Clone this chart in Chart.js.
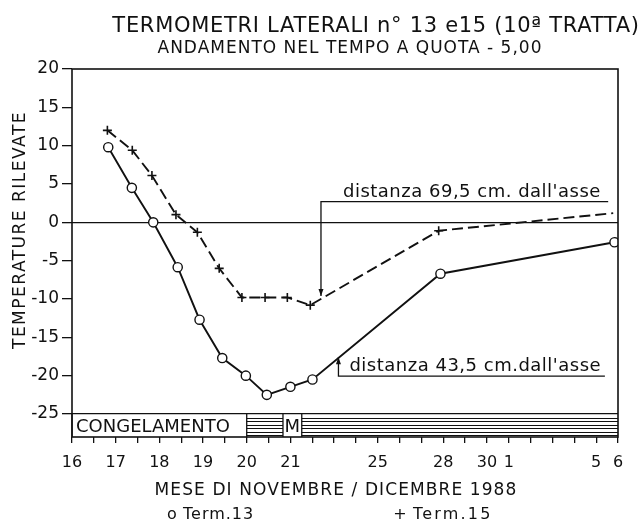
<!DOCTYPE html>
<html>
<head>
<meta charset="utf-8">
<script src="https://cdn.jsdelivr.net/npm/chart.js@4.4.1/dist/chart.umd.min.js"></script>
<style>
  html, body { margin: 0; padding: 0; background: #fff; }
  #box { width: 641px; height: 524px; }
</style>
</head>
<body>
<div id="box"><canvas id="grafico" width="641" height="524"></canvas></div>
<script>
// giorni: novembre 1988 come numero del giorno, dicembre come 30 + giorno
const term13Days = [16.83, 17.37, 17.86, 18.42, 18.92, 19.44, 19.98, 20.46, 21.0, 22.01, 27.87, 35.84]
const term13Temp = [9.8, 4.5, 0, -5.85, -12.7, -17.7, -20.0, -22.5, -21.45, -20.5, -6.7, -2.6]

const term15Days = [16.81, 17.38, 17.83, 18.38, 18.87, 19.37, 19.89, 20.42, 20.93, 21.91, 27.79, 35.78]
const term15Temp = [12, 9.4, 6.1, 1.0, -1.3, -6.0, -9.8, -9.8, -9.8, -10.8, -1.1, 1.2]

const xTickDays = [16, 17, 18, 19, 20, 21, 25, 28, 30, 31, 35, 36]
const xTickLabels = ['16', '17', '18', '19', '20', '21', '25', '28', '30', '1', '5', '6']
const yTicks = [20, 15, 10, 5, 0, -5, -10, -15, -20, -25]

// fasce sotto -25
const bandFrom = [16, 20, 20.83, 21.52]
const bandTo = [20, 20.83, 21.52, 36]
const bandText = ['CONGELAMENTO', '', 'M', '']
const bandHatch = [false, true, false, true]

const notes = [
  { text: "distanza 69,5 cm. dall'asse", from: 22.4, to: 35.55, at: 2.7, arrowTo: -9.6, shift: 22 },
  { text: "distanza 43,5 cm.dall'asse", from: 23.2, to: 35.4, at: -20.05, arrowTo: -17.6, shift: 11 }
]

const FONT = "'DejaVu Sans', 'Liberation Sans', sans-serif"

// asse spezzato: fino al 21 mezzo giorno per tacca, poi un giorno per tacca
function dayToPos(d) {
  return d <= 21 ? (d - 16) * 2 : 10 + (d - 21)
}

const pts13 = term13Days.map((d, i) => ({ x: dayToPos(d), y: term13Temp[i] }))
const pts15 = term15Days.map((d, i) => ({ x: dayToPos(d), y: term15Temp[i] }))
const tickPos = xTickDays.map(dayToPos)

function scritta(ctx, text, x, y, size, spacing, align) {
  ctx.font = size + 'px ' + FONT
  ctx.letterSpacing = spacing + 'px'
  ctx.textAlign = align || 'center'
  ctx.fillText(text, x, y)
  ctx.letterSpacing = '0px'
}

const decorazioni = {
  id: 'decorazioni',
  beforeDatasetsDraw(chart) {
    const { ctx, chartArea: a, scales: { x, y } } = chart
    const top = y.getPixelForValue(-25)
    ctx.save()
    ctx.strokeStyle = '#111'
    ctx.fillStyle = '#111'
    for (let i = 0; i < bandFrom.length; i++) {
      const x0 = x.getPixelForValue(dayToPos(bandFrom[i]))
      const x1 = x.getPixelForValue(dayToPos(bandTo[i]))
      if (bandHatch[i]) {
        ctx.lineWidth = 1
        ctx.beginPath()
        for (let yy = top + 3.5; yy < a.bottom - 1; yy += 3.5) {
          ctx.moveTo(x0, Math.round(yy) + 0.5)
          ctx.lineTo(x1, Math.round(yy) + 0.5)
        }
        ctx.stroke()
      }
      ctx.lineWidth = 1.3
      ctx.beginPath()
      ctx.moveTo(x0, top)
      ctx.lineTo(x0, a.bottom)
      ctx.stroke()
      if (bandText[i]) {
        ctx.textBaseline = 'alphabetic'
        if (bandText[i].length > 1) {
          scritta(ctx, bandText[i], x0 + 4, a.bottom - 5, 18, 0, 'left')
        } else {
          scritta(ctx, bandText[i], (x0 + x1) / 2, a.bottom - 5, 18, 0, 'center')
        }
      }
    }
    ctx.restore()
  },
  afterDraw(chart) {
    const { ctx, chartArea: a, scales: { x, y } } = chart
    ctx.save()
    ctx.strokeStyle = '#111'
    ctx.fillStyle = '#111'
    ctx.lineWidth = 1.6
    ctx.strokeRect(a.left, a.top, a.right - a.left, a.bottom - a.top)

    // note con freccia
    ctx.textBaseline = 'alphabetic'
    notes.forEach(n => {
      const x0 = x.getPixelForValue(dayToPos(n.from))
      const x1 = x.getPixelForValue(dayToPos(n.to))
      const yl = y.getPixelForValue(n.at)
      const ya = y.getPixelForValue(n.arrowTo)
      ctx.lineWidth = 1.3
      ctx.beginPath()
      ctx.moveTo(x1, yl)
      ctx.lineTo(x0, yl)
      ctx.lineTo(x0, ya)
      ctx.stroke()
      const dir = ya > yl ? 1 : -1
      ctx.beginPath()
      ctx.moveTo(x0, ya)
      ctx.lineTo(x0 - 2.5, ya - dir * 7)
      ctx.lineTo(x0 + 2.5, ya - dir * 7)
      ctx.closePath()
      ctx.fill()
      scritta(ctx, n.text, x0 + n.shift, yl - 5, 18, 0.5, 'left')
    })

    // titoli
    scritta(ctx, 'TERMOMETRI LATERALI n° 13 e15 (10ª TRATTA)', 376, 32, 21, 0.7)
    scritta(ctx, 'ANDAMENTO NEL TEMPO A QUOTA - 5,00', 350, 53, 17, 1)
    scritta(ctx, 'MESE DI NOVEMBRE / DICEMBRE 1988', 336, 495, 17, 1.1)

    ctx.save()
    ctx.translate(21, 230)
    ctx.rotate(-Math.PI / 2)
    ctx.textBaseline = 'middle'
    scritta(ctx, 'TEMPERATURE RILEVATE', 0, 0, 17, 1.5)
    ctx.restore()

    // legenda
    const ds = chart.data.datasets
    scritta(ctx, 'o', 172, 519, 16, 0)
    scritta(ctx, ds[0].label, 183, 519, 16, 1, 'left')
    scritta(ctx, '+', 400, 519, 16, 0)
    scritta(ctx, ds[1].label, 413, 519, 16, 2.2, 'left')
    ctx.restore()
  }
}

new Chart(document.getElementById('grafico').getContext('2d'), {
  type: 'line',
  data: {
    datasets: [{
      label: 'Term.13',
      data: pts13,
      borderColor: '#111',
      borderWidth: 1.9,
      pointStyle: 'circle',
      pointRadius: 4.6,
      pointBackgroundColor: '#fff',
      pointBorderColor: '#111',
      pointBorderWidth: 1.4,
      tension: 0
    }, {
      label: 'Term.15',
      data: pts15,
      borderColor: '#111',
      borderWidth: 1.9,
      borderDash: [11, 5],
      pointStyle: 'cross',
      pointRadius: ctx => ctx.dataIndex === pts15.length - 1 ? 0 : 4.5,
      pointBorderColor: '#111',
      pointBorderWidth: 1.6,
      tension: 0
    }]
  },
  options: {
    responsive: false,
    animation: false,
    layout: { padding: { top: 69, right: 23, bottom: 0, left: 0 } },
    plugins: {
      legend: { display: false },
      tooltip: { enabled: false }
    },
    scales: {
      x: {
        type: 'linear',
        min: 0,
        max: 25,
        afterFit: s => { s.height = 87 },
        afterBuildTicks: s => { s.ticks = Array.from({ length: 26 }, (_, i) => ({ value: i })) },
        border: { display: false },
        grid: { drawOnChartArea: false, color: '#111', tickLength: 6, lineWidth: 1.3 },
        ticks: {
          autoSkip: false,
          maxRotation: 0,
          padding: 10,
          color: '#111',
          font: { family: FONT, size: 16 },
          callback: v => {
            const k = tickPos.indexOf(v)
            return k >= 0 ? xTickLabels[k] : ''
          }
        }
      },
      y: {
        min: -28,
        max: 20,
        afterFit: s => { s.width = 72 },
        afterBuildTicks: s => { s.ticks = yTicks.map(v => ({ value: v })) },
        border: { display: false },
        grid: {
          color: c => (c.tick && (c.tick.value === 0 || c.tick.value === -25)) ? '#111' : 'rgba(0,0,0,0)',
          tickColor: '#111',
          tickLength: 10,
          lineWidth: 1.3
        },
        ticks: {
          padding: 3,
          color: '#111',
          font: { family: FONT, size: 17 }
        }
      }
    }
  },
  plugins: [decorazioni]
})
</script>
</body>
</html>
